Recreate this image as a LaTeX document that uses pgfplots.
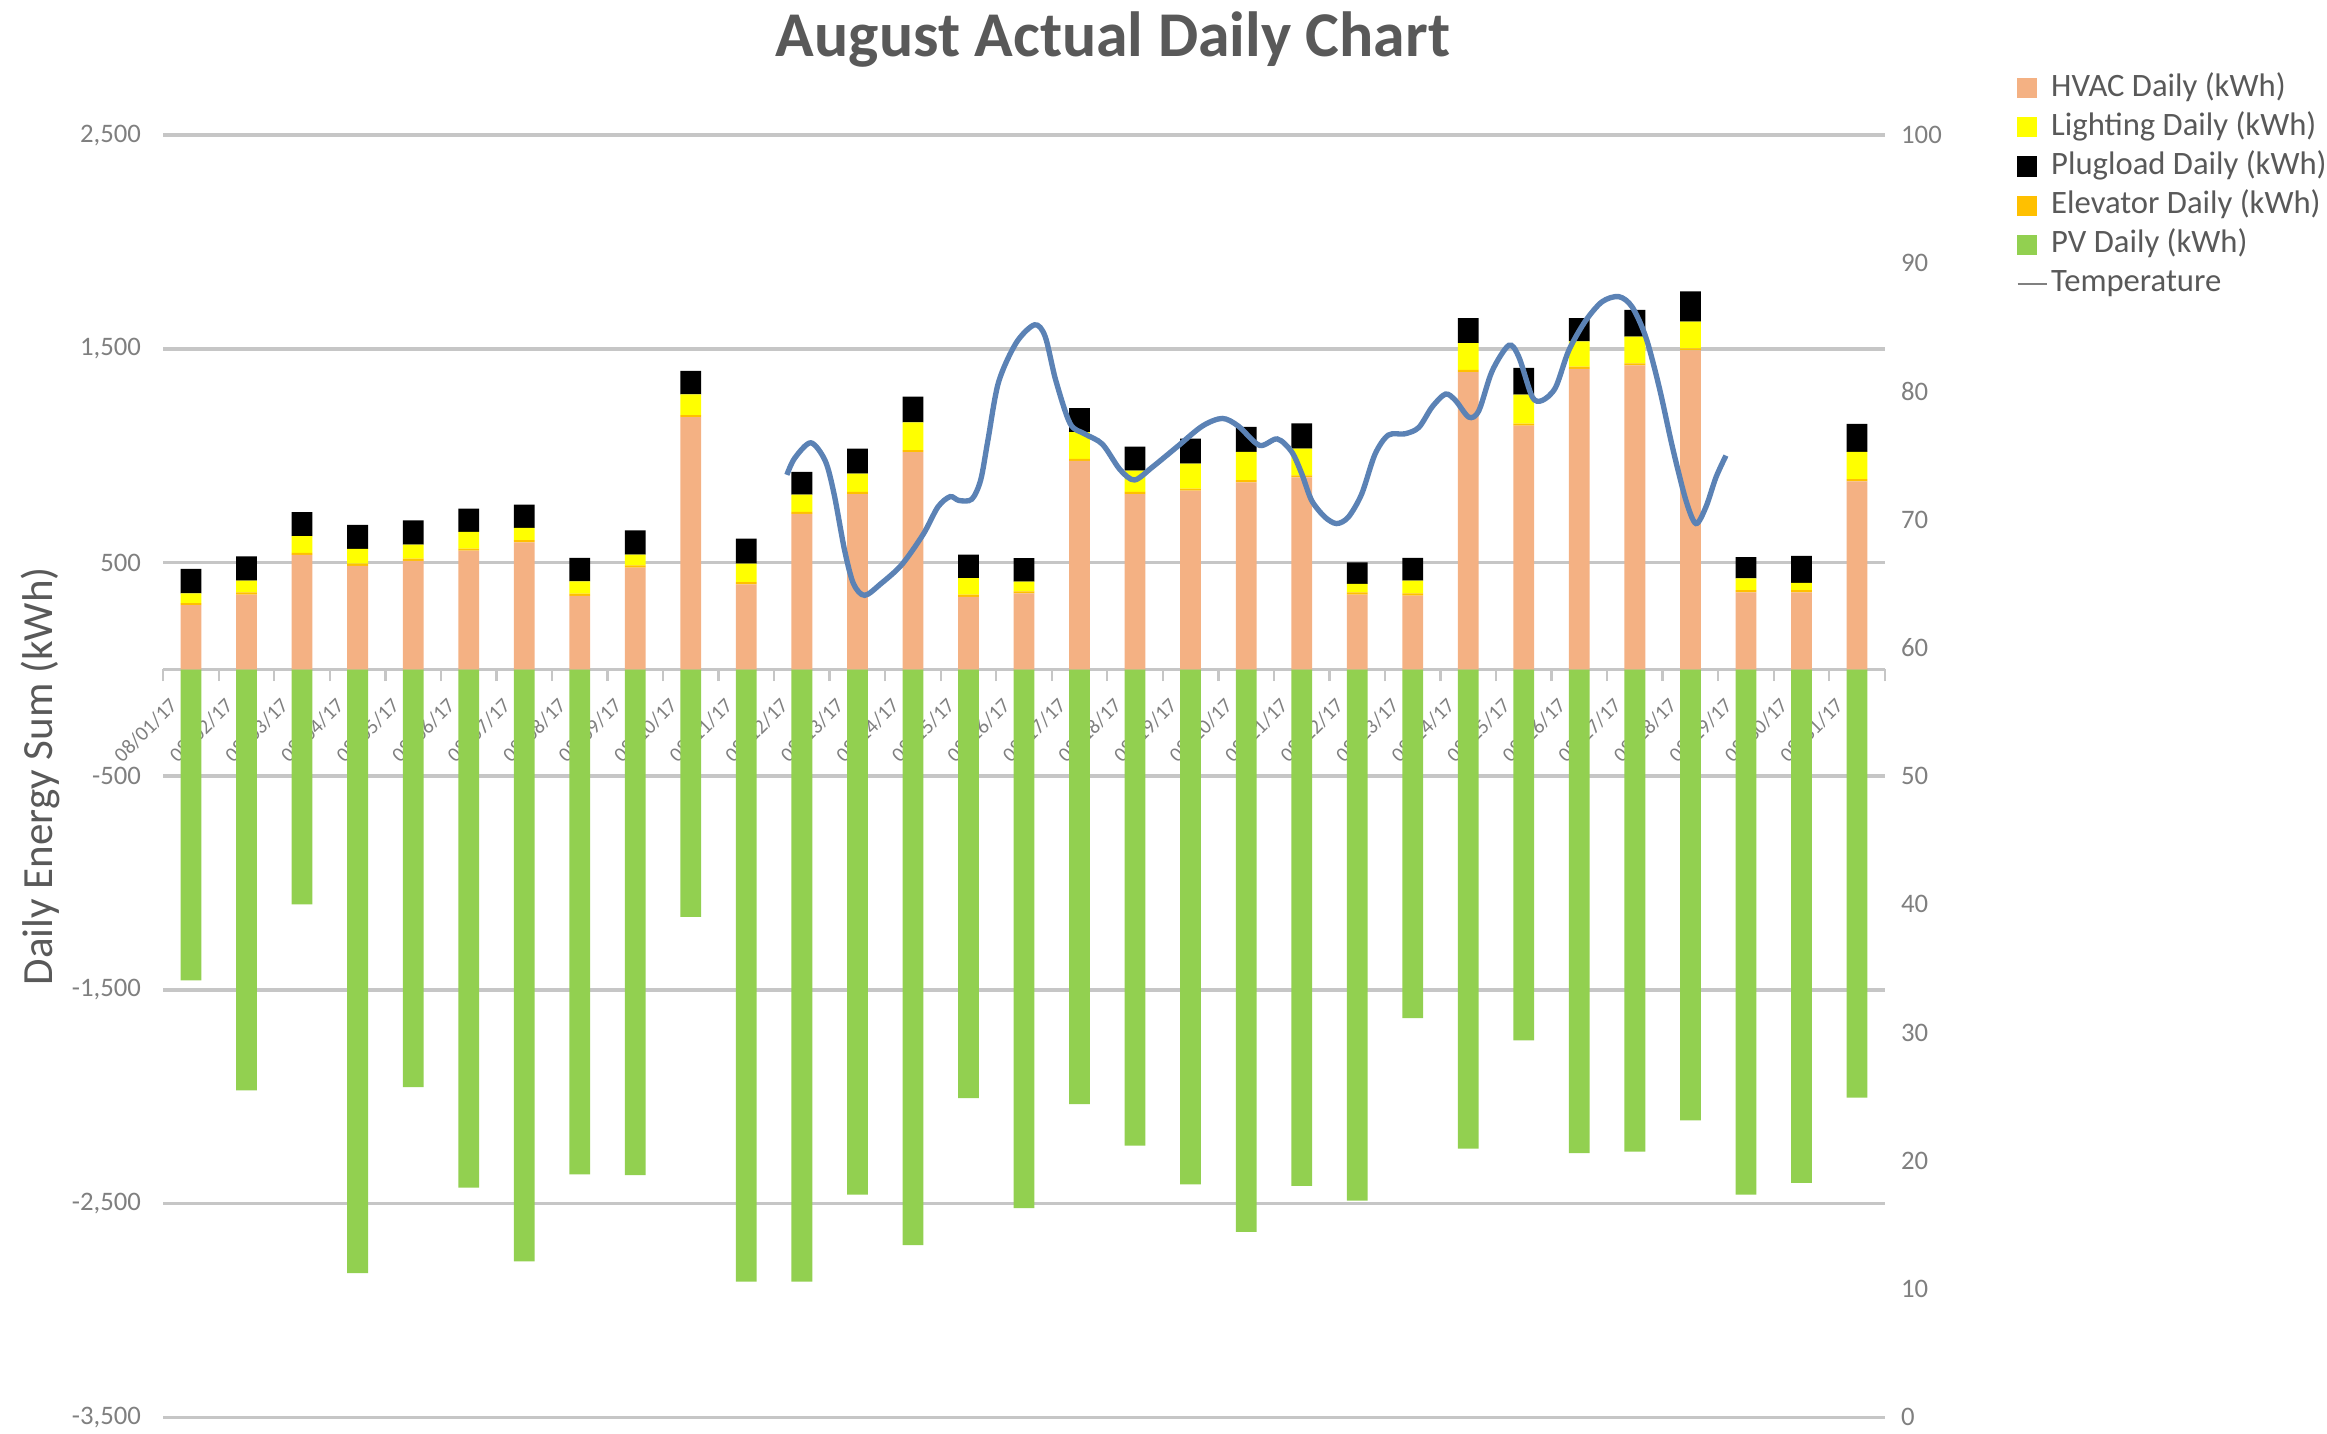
\documentclass[border=0pt]{standalone}
\usepackage{pgfplots}
\usepackage{pgfplotstable}
\pgfplotsset{compat=1.18}
\usepackage{fontspec}
\setmainfont{Carlito}
\definecolor{hvac}{HTML}{F4B183}
\definecolor{lightc}{HTML}{FFFF00}
\definecolor{plug}{HTML}{000000}
\definecolor{elev}{HTML}{FFC000}
\definecolor{pv}{HTML}{92D050}
\definecolor{temp}{HTML}{5B82B5}
\definecolor{gridc}{HTML}{C6C6C6}
\definecolor{ticktxt}{HTML}{7F7F7F}
\definecolor{titletxt}{HTML}{595959}
\definecolor{legtxt}{HTML}{595959}

\pgfplotstableread{
day hvac elev light plug pv
0 300 10 45 115 -1455
1 350 10 55 113 -1970
2 535 10 78 113 -1100
3 484 10 70 112 -2825
4 508 10 65 114 -1955
5 555 10 78 109 -2425
6 594 10 58 109 -2770
7 344 10 57 110 -2363
8 476 10 51 113 -2367
9 1180 10 97 109 -1158
10 398 10 86 118 -2865
11 727 10 81 106 -2865
12 820 10 86 117 -2458
13 1016 10 129 121 -2694
14 339 10 78 110 -2007
15 355 10 45 110 -2521
16 975 10 125 112 -2035
17 820 10 100 112 -2229
18 836 10 117 117 -2410
19 875 10 133 117 -2632
20 898 10 125 118 -2417
21 350 10 40 100 -2486
22 345 10 60 107 -1632
23 1391 10 125 117 -2243
24 1140 10 135 125 -1736
25 1406 10 118 109 -2264
26 1422 10 125 125 -2257
27 1492 10 125 141 -2111
28 360 10 55 100 -2458
29 360 10 35 126 -2403
30 880 10 127 131 -2004
}\energy

\pgfplotsset{
  base/.style={
    scale only axis, width=580pt, height=432pt,
    xmin=-0.5, xmax=30.5,
    at={(0,0)}, anchor=south west,
  },
}

\begin{document}
\begin{tikzpicture}
\useasboundingbox (-55pt,-5.5pt) rectangle (729pt,477.5pt);
% background axis: grid, left ticks, category axis
\begin{axis}[base, ymin=-3500, ymax=2500,
  axis x line*=middle, axis y line*=left,
  y axis line style={draw=none},
  x axis line style={draw=gridc, line width=1.2pt},
  ytick={-3500,-2500,...,2500},
  ymajorgrids, grid style={gridc, line width=1.2pt},
  major y tick style={draw=none},
  xtick={0,...,30},
  major x tick style={draw=none},
  minor xtick={-0.5,0.5,...,30.5},
  minor x tick style={draw=gridc, line width=0.8pt},
  minor tick length=4pt,
  xtick align=outside,
  xticklabels={08/01/17,08/02/17,08/03/17,08/04/17,08/05/17,08/06/17,08/07/17,08/08/17,08/09/17,08/10/17,08/11/17,08/12/17,08/13/17,08/14/17,08/15/17,08/16/17,08/17/17,08/18/17,08/19/17,08/20/17,08/21/17,08/22/17,08/23/17,08/24/17,08/25/17,08/26/17,08/27/17,08/28/17,08/29/17,08/30/17,08/31/17},
  xticklabel style={xshift=-5pt, yshift=-6pt, rotate=45, anchor=east, font=\fontsize{7}{8}\selectfont, text=ticktxt, inner sep=1pt},
  yticklabel style={font=\fontsize{9}{10}\selectfont, text=ticktxt, xshift=-4pt},
  /pgf/number format/.cd, 1000 sep={,}, assume math mode=true,
  /pgfplots/.cd,
  ylabel={Daily Energy Sum (kWh)},
  ylabel style={at={(axis description cs:-0.0716,0.5)}, anchor=center, font=\fontsize{14.5}{16}\selectfont, text=titletxt},
]
\end{axis}
% PV bars
\begin{axis}[base, ymin=-3500, ymax=2500, hide axis, ybar, bar width=7pt]
\addplot[fill=pv, draw=none] table[x=day, y=pv]{\energy};
\end{axis}
% stacked consumption bars
\begin{axis}[base, ymin=-3500, ymax=2500, hide axis, ybar stacked, bar width=7pt]
\addplot[fill=hvac, draw=none] table[x=day, y=hvac]{\energy};
\addplot[fill=elev, draw=none] table[x=day, y=elev]{\energy};
\addplot[fill=lightc, draw=none] table[x=day, y=light]{\energy};
\addplot[fill=plug, draw=none] table[x=day, y=plug]{\energy};
\end{axis}
% temperature, right axis, legend, title
\begin{axis}[base, ymin=0, ymax=100,
  clip mode=individual,
  axis y line*=right, axis x line=none,
  y axis line style={draw=none},
  ytick={0,10,...,100}, major y tick style={draw=none},
  yticklabel style={font=\fontsize{9}{10}\selectfont, text=ticktxt, xshift=2pt},
  /pgf/number format/assume math mode=true,
  legend cell align=left,
  legend style={at={(1.071,1.057)}, anchor=north west, draw=none, fill=none,
    font=\fontsize{11}{12}\selectfont, text=legtxt, row sep=0pt,
    nodes={inner xsep=0pt, inner ysep=1.3pt, text height=8pt, text depth=2.6pt},
    /tikz/every odd column/.append style={column sep=1pt}},
  legend entries={HVAC Daily (kWh), Lighting Daily (kWh), Plugload Daily (kWh), Elevator Daily (kWh), PV Daily (kWh), Temperature},
]
\addlegendimage{legend image code/.code={\fill[hvac] (0pt,-3.2pt) rectangle (6.4pt,3.2pt);}}
\addlegendimage{legend image code/.code={\fill[lightc] (0pt,-3.2pt) rectangle (6.4pt,3.2pt);}}
\addlegendimage{legend image code/.code={\fill[plug] (0pt,-3.2pt) rectangle (6.4pt,3.2pt);}}
\addlegendimage{legend image code/.code={\fill[elev] (0pt,-3.2pt) rectangle (6.4pt,3.2pt);}}
\addlegendimage{legend image code/.code={\fill[pv] (0pt,-3.2pt) rectangle (6.4pt,3.2pt);}}
\addplot[temp, line width=1.8pt, smooth, tension=0.5,
  legend image code/.code={\draw[gray, line width=0.7pt] (0pt,0pt) -- (10pt,0pt);}] table {
10.73 73.5
10.87 74.8
11.16 76.0
11.42 74.6
11.58 72.0
11.77 67.6
11.93 65.0
12.13 64.1
12.42 65.0
12.80 66.5
13.19 68.9
13.45 71.0
13.67 71.8
13.83 71.5
14.06 71.6
14.22 73.1
14.35 76.2
14.54 80.7
14.86 83.8
15.19 85.2
15.38 84.3
15.57 80.9
15.83 77.5
16.09 76.7
16.41 75.9
16.73 73.9
16.99 73.1
17.31 74.1
17.76 75.7
18.21 77.3
18.57 77.9
18.86 77.3
19.24 75.8
19.56 76.3
19.82 75.3
20.00 73.6
20.18 71.5
20.42 70.2
20.63 69.7
20.84 70.2
21.08 72.0
21.32 75.1
21.56 76.6
21.86 76.7
22.11 77.2
22.35 78.8
22.59 79.8
22.77 79.3
23.01 78.0
23.19 78.5
23.43 81.6
23.73 83.6
23.91 82.7
24.15 79.6
24.33 79.3
24.57 80.3
24.81 83.2
25.11 85.5
25.41 87.0
25.71 87.4
25.95 86.6
26.20 84.2
26.44 80.3
26.68 75.6
26.92 71.5
27.10 69.7
27.28 71.0
27.46 73.3
27.64 75.0
};
\node[anchor=base, font=\fontsize{21.5}{24}\selectfont\bfseries, text=titletxt] at (rel axis cs:0.5517,1.0613) {August Actual Daily Chart};
\end{axis}
\end{tikzpicture}
\end{document}
